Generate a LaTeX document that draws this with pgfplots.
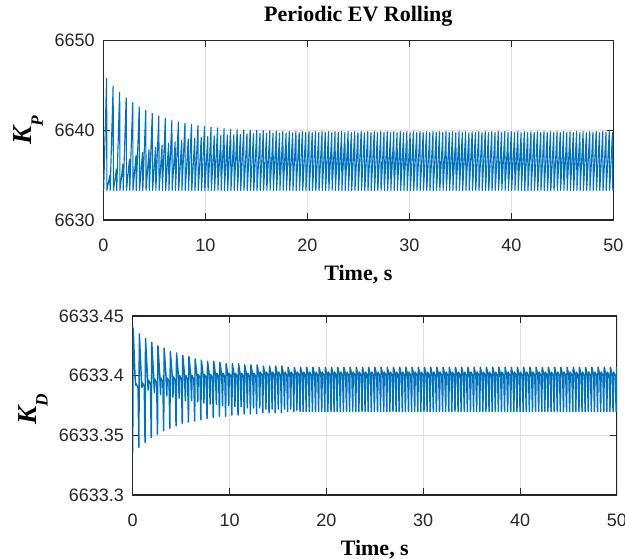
\documentclass[border=0pt]{standalone}
\usepackage{fontspec}
\setmainfont{Liberation Serif}
\newfontfamily\ticksf{Liberation Sans}
\usepackage{pgfplots}
\usepackage{pgfplotstable}
\pgfplotsset{compat=1.18}

\definecolor{mblue}{RGB}{0,114,189}
\newcommand{\tk}{\ticksf\fontsize{13.5}{14}\selectfont}
\newcommand{\lb}{\bfseries\fontsize{16.5}{18}\selectfont}
\newcommand{\yl}{\bfseries\itshape\fontsize{20.5}{22}\selectfont}

% K_P: peak, then fast drop to the floor
\pgfplotstableread[row sep=\\]{
t kp \\
0.00 6634.20 \\ 0.03 6633.30 \\ 0.32 6645.80 \\ 0.35 6633.30 \\ 0.64 6634.98 \\ 0.67 6633.30 \\ 0.96 6644.96 \\ 0.99 6633.30 \\
1.28 6635.66 \\ 1.31 6633.30 \\ 1.60 6644.24 \\ 1.63 6633.30 \\ 1.92 6636.24 \\ 1.95 6633.30 \\ 2.24 6643.62 \\ 2.27 6633.30 \\
2.56 6636.74 \\ 2.59 6633.30 \\ 2.88 6643.08 \\ 2.91 6633.30 \\ 3.20 6637.17 \\ 3.23 6633.30 \\ 3.52 6642.62 \\ 3.55 6633.30 \\
3.84 6637.53 \\ 3.87 6633.30 \\ 4.16 6642.23 \\ 4.19 6633.30 \\ 4.48 6637.85 \\ 4.51 6633.30 \\ 4.80 6641.89 \\ 4.83 6633.30 \\
5.12 6638.12 \\ 5.15 6633.30 \\ 5.44 6641.60 \\ 5.47 6633.30 \\ 5.76 6638.36 \\ 5.79 6633.30 \\ 6.08 6641.34 \\ 6.11 6633.30 \\
6.40 6638.56 \\ 6.43 6633.30 \\ 6.72 6641.13 \\ 6.75 6633.30 \\ 7.04 6638.73 \\ 7.07 6633.30 \\ 7.36 6640.94 \\ 7.39 6633.30 \\
7.68 6638.88 \\ 7.71 6633.30 \\ 8.00 6640.78 \\ 8.03 6633.30 \\ 8.32 6639.01 \\ 8.35 6633.30 \\ 8.64 6640.64 \\ 8.67 6633.30 \\
8.96 6639.12 \\ 8.99 6633.30 \\ 9.28 6640.53 \\ 9.31 6633.30 \\ 9.60 6639.22 \\ 9.63 6633.30 \\ 9.92 6640.42 \\ 9.95 6633.30 \\
10.24 6639.30 \\ 10.27 6633.30 \\ 10.56 6640.34 \\ 10.59 6633.30 \\ 10.88 6639.37 \\ 10.91 6633.30 \\ 11.20 6640.26 \\ 11.23 6633.30 \\
11.52 6639.43 \\ 11.55 6633.30 \\ 11.84 6640.20 \\ 11.87 6633.30 \\ 12.16 6639.48 \\ 12.19 6633.30 \\ 12.48 6640.14 \\ 12.51 6633.30 \\
12.80 6639.53 \\ 12.83 6633.30 \\ 13.12 6640.09 \\ 13.15 6633.30 \\ 13.44 6639.56 \\ 13.47 6633.30 \\ 13.76 6640.05 \\ 13.79 6633.30 \\
14.08 6639.60 \\ 14.11 6633.30 \\ 14.40 6640.02 \\ 14.43 6633.30 \\ 14.72 6639.63 \\ 14.75 6633.30 \\ 15.04 6639.99 \\ 15.07 6633.30 \\
15.36 6639.65 \\ 15.39 6633.30 \\ 15.68 6639.96 \\ 15.71 6633.30 \\ 16.00 6639.67 \\ 16.03 6633.30 \\ 16.32 6639.94 \\ 16.35 6633.30 \\
16.64 6639.69 \\ 16.67 6633.30 \\ 16.96 6639.92 \\ 16.99 6633.30 \\ 17.28 6639.70 \\ 17.31 6633.30 \\ 17.60 6639.90 \\ 17.63 6633.30 \\
17.92 6639.72 \\ 17.95 6633.30 \\ 18.24 6639.89 \\ 18.27 6633.30 \\ 18.56 6639.73 \\ 18.59 6633.30 \\ 18.88 6639.88 \\ 18.91 6633.30 \\
19.20 6639.74 \\ 19.23 6633.30 \\ 19.52 6639.86 \\ 19.55 6633.30 \\ 19.84 6639.75 \\ 19.87 6633.30 \\ 20.16 6639.85 \\ 20.19 6633.30 \\
20.48 6639.75 \\ 20.51 6633.30 \\ 20.80 6639.85 \\ 20.83 6633.30 \\ 21.12 6639.75 \\ 21.15 6633.30 \\ 21.44 6639.85 \\ 21.47 6633.30 \\
21.76 6639.75 \\ 21.79 6633.30 \\ 22.08 6639.85 \\ 22.11 6633.30 \\ 22.40 6639.75 \\ 22.43 6633.30 \\ 22.72 6639.85 \\ 22.75 6633.30 \\
23.04 6639.75 \\ 23.07 6633.30 \\ 23.36 6639.85 \\ 23.39 6633.30 \\ 23.68 6639.75 \\ 23.71 6633.30 \\ 24.00 6639.85 \\ 24.03 6633.30 \\
24.32 6639.75 \\ 24.35 6633.30 \\ 24.64 6639.85 \\ 24.67 6633.30 \\ 24.96 6639.75 \\ 24.99 6633.30 \\ 25.28 6639.85 \\ 25.31 6633.30 \\
25.60 6639.75 \\ 25.63 6633.30 \\ 25.92 6639.85 \\ 25.95 6633.30 \\ 26.24 6639.75 \\ 26.27 6633.30 \\ 26.56 6639.85 \\ 26.59 6633.30 \\
26.88 6639.75 \\ 26.91 6633.30 \\ 27.20 6639.85 \\ 27.23 6633.30 \\ 27.52 6639.75 \\ 27.55 6633.30 \\ 27.84 6639.85 \\ 27.87 6633.30 \\
28.16 6639.75 \\ 28.19 6633.30 \\ 28.48 6639.85 \\ 28.51 6633.30 \\ 28.80 6639.75 \\ 28.83 6633.30 \\ 29.12 6639.85 \\ 29.15 6633.30 \\
29.44 6639.75 \\ 29.47 6633.30 \\ 29.76 6639.85 \\ 29.79 6633.30 \\ 30.08 6639.75 \\ 30.11 6633.30 \\ 30.40 6639.85 \\ 30.43 6633.30 \\
30.72 6639.75 \\ 30.75 6633.30 \\ 31.04 6639.85 \\ 31.07 6633.30 \\ 31.36 6639.75 \\ 31.39 6633.30 \\ 31.68 6639.85 \\ 31.71 6633.30 \\
32.00 6639.75 \\ 32.03 6633.30 \\ 32.32 6639.85 \\ 32.35 6633.30 \\ 32.64 6639.75 \\ 32.67 6633.30 \\ 32.96 6639.85 \\ 32.99 6633.30 \\
33.28 6639.75 \\ 33.31 6633.30 \\ 33.60 6639.85 \\ 33.63 6633.30 \\ 33.92 6639.75 \\ 33.95 6633.30 \\ 34.24 6639.85 \\ 34.27 6633.30 \\
34.56 6639.75 \\ 34.59 6633.30 \\ 34.88 6639.85 \\ 34.91 6633.30 \\ 35.20 6639.75 \\ 35.23 6633.30 \\ 35.52 6639.85 \\ 35.55 6633.30 \\
35.84 6639.75 \\ 35.87 6633.30 \\ 36.16 6639.85 \\ 36.19 6633.30 \\ 36.48 6639.75 \\ 36.51 6633.30 \\ 36.80 6639.85 \\ 36.83 6633.30 \\
37.12 6639.75 \\ 37.15 6633.30 \\ 37.44 6639.85 \\ 37.47 6633.30 \\ 37.76 6639.75 \\ 37.79 6633.30 \\ 38.08 6639.85 \\ 38.11 6633.30 \\
38.40 6639.75 \\ 38.43 6633.30 \\ 38.72 6639.85 \\ 38.75 6633.30 \\ 39.04 6639.75 \\ 39.07 6633.30 \\ 39.36 6639.85 \\ 39.39 6633.30 \\
39.68 6639.75 \\ 39.71 6633.30 \\ 40.00 6639.85 \\ 40.03 6633.30 \\ 40.32 6639.75 \\ 40.35 6633.30 \\ 40.64 6639.85 \\ 40.67 6633.30 \\
40.96 6639.75 \\ 40.99 6633.30 \\ 41.28 6639.85 \\ 41.31 6633.30 \\ 41.60 6639.75 \\ 41.63 6633.30 \\ 41.92 6639.85 \\ 41.95 6633.30 \\
42.24 6639.75 \\ 42.27 6633.30 \\ 42.56 6639.85 \\ 42.59 6633.30 \\ 42.88 6639.75 \\ 42.91 6633.30 \\ 43.20 6639.85 \\ 43.23 6633.30 \\
43.52 6639.75 \\ 43.55 6633.30 \\ 43.84 6639.85 \\ 43.87 6633.30 \\ 44.16 6639.75 \\ 44.19 6633.30 \\ 44.48 6639.85 \\ 44.51 6633.30 \\
44.80 6639.75 \\ 44.83 6633.30 \\ 45.12 6639.85 \\ 45.15 6633.30 \\ 45.44 6639.75 \\ 45.47 6633.30 \\ 45.76 6639.85 \\ 45.79 6633.30 \\
46.08 6639.75 \\ 46.11 6633.30 \\ 46.40 6639.85 \\ 46.43 6633.30 \\ 46.72 6639.75 \\ 46.75 6633.30 \\ 47.04 6639.85 \\ 47.07 6633.30 \\
47.36 6639.75 \\ 47.39 6633.30 \\ 47.68 6639.85 \\ 47.71 6633.30 \\ 48.00 6639.75 \\ 48.03 6633.30 \\ 48.32 6639.85 \\ 48.35 6633.30 \\
48.64 6639.75 \\ 48.67 6633.30 \\ 48.96 6639.85 \\ 48.99 6633.30 \\ 49.28 6639.75 \\ 49.31 6633.30 \\ 49.60 6639.85 \\ 49.63 6633.30 \\
49.92 6639.75 \\ 49.95 6633.30 \\ 50.24 6639.85 \\
}\kptab

% K_D - 6633 (offset kept for TeX precision): dip, fast rise, slow plateau
\pgfplotstableread[row sep=\\]{
t kd \\
0.00 .335 \\ 0.05 .440 \\ 0.24 .400 \\ 0.32 .392 \\ 0.37 .393 \\ 0.56 .390 \\
0.64 .340 \\ 0.69 .435 \\ 0.88 .400 \\ 0.96 .390 \\ 1.01 .394 \\ 1.20 .391 \\
1.28 .344 \\ 1.33 .431 \\ 1.52 .400 \\ 1.60 .388 \\ 1.65 .396 \\ 1.84 .393 \\
1.92 .348 \\ 1.97 .428 \\ 2.16 .400 \\ 2.24 .386 \\ 2.29 .397 \\ 2.48 .394 \\
2.56 .351 \\ 2.61 .425 \\ 2.80 .400 \\ 2.88 .384 \\ 2.93 .398 \\ 3.12 .395 \\
3.20 .354 \\ 3.25 .423 \\ 3.44 .400 \\ 3.52 .383 \\ 3.57 .398 \\ 3.76 .395 \\
3.84 .356 \\ 3.89 .420 \\ 4.08 .400 \\ 4.16 .382 \\ 4.21 .399 \\ 4.40 .396 \\
4.48 .358 \\ 4.53 .419 \\ 4.72 .400 \\ 4.80 .381 \\ 4.85 .400 \\ 5.04 .397 \\
5.12 .360 \\ 5.17 .417 \\ 5.36 .400 \\ 5.44 .379 \\ 5.49 .400 \\ 5.68 .397 \\
5.76 .361 \\ 5.81 .416 \\ 6.00 .400 \\ 6.08 .379 \\ 6.13 .400 \\ 6.32 .397 \\
6.40 .362 \\ 6.45 .414 \\ 6.64 .400 \\ 6.72 .378 \\ 6.77 .401 \\ 6.96 .398 \\
7.04 .363 \\ 7.09 .413 \\ 7.28 .400 \\ 7.36 .377 \\ 7.41 .401 \\ 7.60 .398 \\
7.68 .364 \\ 7.73 .412 \\ 7.92 .400 \\ 8.00 .376 \\ 8.05 .401 \\ 8.24 .398 \\
8.32 .365 \\ 8.37 .412 \\ 8.56 .400 \\ 8.64 .376 \\ 8.69 .402 \\ 8.88 .399 \\
8.96 .366 \\ 9.01 .411 \\ 9.20 .400 \\ 9.28 .375 \\ 9.33 .402 \\ 9.52 .399 \\
9.60 .366 \\ 9.65 .410 \\ 9.84 .400 \\ 9.92 .375 \\ 9.97 .402 \\ 10.16 .399 \\
10.24 .367 \\ 10.29 .410 \\ 10.48 .400 \\ 10.56 .374 \\ 10.61 .402 \\ 10.80 .399 \\
10.88 .367 \\ 10.93 .410 \\ 11.12 .400 \\ 11.20 .374 \\ 11.25 .402 \\ 11.44 .399 \\
11.52 .368 \\ 11.57 .409 \\ 11.76 .400 \\ 11.84 .373 \\ 11.89 .402 \\ 12.08 .399 \\
12.16 .368 \\ 12.21 .409 \\ 12.40 .400 \\ 12.48 .373 \\ 12.53 .402 \\ 12.72 .399 \\
12.80 .368 \\ 12.85 .409 \\ 13.04 .400 \\ 13.12 .373 \\ 13.17 .403 \\ 13.36 .400 \\
13.44 .369 \\ 13.49 .408 \\ 13.68 .400 \\ 13.76 .372 \\ 13.81 .403 \\ 14.00 .400 \\
14.08 .369 \\ 14.13 .408 \\ 14.32 .400 \\ 14.40 .372 \\ 14.45 .403 \\ 14.64 .400 \\
14.72 .369 \\ 14.77 .408 \\ 14.96 .400 \\ 15.04 .372 \\ 15.09 .403 \\ 15.28 .400 \\
15.36 .369 \\ 15.41 .408 \\ 15.60 .400 \\ 15.68 .372 \\ 15.73 .403 \\ 15.92 .400 \\
16.00 .370 \\ 16.05 .407 \\ 16.24 .400 \\ 16.32 .372 \\ 16.37 .403 \\ 16.56 .400 \\
16.64 .370 \\ 16.69 .407 \\ 16.88 .400 \\ 16.96 .371 \\ 17.01 .403 \\ 17.20 .400 \\
17.28 .370 \\ 17.33 .407 \\ 17.52 .400 \\ 17.60 .370 \\ 17.65 .403 \\ 17.84 .400 \\
17.92 .370 \\ 17.97 .407 \\ 18.16 .400 \\ 18.24 .370 \\ 18.29 .403 \\ 18.48 .400 \\
18.56 .370 \\ 18.61 .407 \\ 18.80 .400 \\ 18.88 .370 \\ 18.93 .403 \\ 19.12 .400 \\
19.20 .370 \\ 19.25 .407 \\ 19.44 .400 \\ 19.52 .370 \\ 19.57 .403 \\ 19.76 .400 \\
19.84 .370 \\ 19.89 .407 \\ 20.08 .400 \\ 20.16 .370 \\ 20.21 .403 \\ 20.40 .400 \\
20.48 .370 \\ 20.53 .407 \\ 20.72 .400 \\ 20.80 .370 \\ 20.85 .403 \\ 21.04 .400 \\
21.12 .370 \\ 21.17 .407 \\ 21.36 .400 \\ 21.44 .370 \\ 21.49 .403 \\ 21.68 .400 \\
21.76 .370 \\ 21.81 .407 \\ 22.00 .400 \\ 22.08 .370 \\ 22.13 .403 \\ 22.32 .400 \\
22.40 .370 \\ 22.45 .407 \\ 22.64 .400 \\ 22.72 .370 \\ 22.77 .403 \\ 22.96 .400 \\
23.04 .370 \\ 23.09 .407 \\ 23.28 .400 \\ 23.36 .370 \\ 23.41 .403 \\ 23.60 .400 \\
23.68 .370 \\ 23.73 .407 \\ 23.92 .400 \\ 24.00 .370 \\ 24.05 .403 \\ 24.24 .400 \\
24.32 .370 \\ 24.37 .407 \\ 24.56 .400 \\ 24.64 .370 \\ 24.69 .403 \\ 24.88 .400 \\
24.96 .370 \\ 25.01 .407 \\ 25.20 .400 \\ 25.28 .370 \\ 25.33 .403 \\ 25.52 .400 \\
25.60 .370 \\ 25.65 .407 \\ 25.84 .400 \\ 25.92 .370 \\ 25.97 .403 \\ 26.16 .400 \\
26.24 .370 \\ 26.29 .407 \\ 26.48 .400 \\ 26.56 .370 \\ 26.61 .403 \\ 26.80 .400 \\
26.88 .370 \\ 26.93 .407 \\ 27.12 .400 \\ 27.20 .370 \\ 27.25 .403 \\ 27.44 .400 \\
27.52 .370 \\ 27.57 .407 \\ 27.76 .400 \\ 27.84 .370 \\ 27.89 .403 \\ 28.08 .400 \\
28.16 .370 \\ 28.21 .407 \\ 28.40 .400 \\ 28.48 .370 \\ 28.53 .403 \\ 28.72 .400 \\
28.80 .370 \\ 28.85 .407 \\ 29.04 .400 \\ 29.12 .370 \\ 29.17 .403 \\ 29.36 .400 \\
29.44 .370 \\ 29.49 .407 \\ 29.68 .400 \\ 29.76 .370 \\ 29.81 .403 \\ 30.00 .400 \\
30.08 .370 \\ 30.13 .407 \\ 30.32 .400 \\ 30.40 .370 \\ 30.45 .403 \\ 30.64 .400 \\
30.72 .370 \\ 30.77 .407 \\ 30.96 .400 \\ 31.04 .370 \\ 31.09 .403 \\ 31.28 .400 \\
31.36 .370 \\ 31.41 .407 \\ 31.60 .400 \\ 31.68 .370 \\ 31.73 .403 \\ 31.92 .400 \\
32.00 .370 \\ 32.05 .407 \\ 32.24 .400 \\ 32.32 .370 \\ 32.37 .403 \\ 32.56 .400 \\
32.64 .370 \\ 32.69 .407 \\ 32.88 .400 \\ 32.96 .370 \\ 33.01 .403 \\ 33.20 .400 \\
33.28 .370 \\ 33.33 .407 \\ 33.52 .400 \\ 33.60 .370 \\ 33.65 .403 \\ 33.84 .400 \\
33.92 .370 \\ 33.97 .407 \\ 34.16 .400 \\ 34.24 .370 \\ 34.29 .403 \\ 34.48 .400 \\
34.56 .370 \\ 34.61 .407 \\ 34.80 .400 \\ 34.88 .370 \\ 34.93 .403 \\ 35.12 .400 \\
35.20 .370 \\ 35.25 .407 \\ 35.44 .400 \\ 35.52 .370 \\ 35.57 .403 \\ 35.76 .400 \\
35.84 .370 \\ 35.89 .407 \\ 36.08 .400 \\ 36.16 .370 \\ 36.21 .403 \\ 36.40 .400 \\
36.48 .370 \\ 36.53 .407 \\ 36.72 .400 \\ 36.80 .370 \\ 36.85 .403 \\ 37.04 .400 \\
37.12 .370 \\ 37.17 .407 \\ 37.36 .400 \\ 37.44 .370 \\ 37.49 .403 \\ 37.68 .400 \\
37.76 .370 \\ 37.81 .407 \\ 38.00 .400 \\ 38.08 .370 \\ 38.13 .403 \\ 38.32 .400 \\
38.40 .370 \\ 38.45 .407 \\ 38.64 .400 \\ 38.72 .370 \\ 38.77 .403 \\ 38.96 .400 \\
39.04 .370 \\ 39.09 .407 \\ 39.28 .400 \\ 39.36 .370 \\ 39.41 .403 \\ 39.60 .400 \\
39.68 .370 \\ 39.73 .407 \\ 39.92 .400 \\ 40.00 .370 \\ 40.05 .403 \\ 40.24 .400 \\
40.32 .370 \\ 40.37 .407 \\ 40.56 .400 \\ 40.64 .370 \\ 40.69 .403 \\ 40.88 .400 \\
40.96 .370 \\ 41.01 .407 \\ 41.20 .400 \\ 41.28 .370 \\ 41.33 .403 \\ 41.52 .400 \\
41.60 .370 \\ 41.65 .407 \\ 41.84 .400 \\ 41.92 .370 \\ 41.97 .403 \\ 42.16 .400 \\
42.24 .370 \\ 42.29 .407 \\ 42.48 .400 \\ 42.56 .370 \\ 42.61 .403 \\ 42.80 .400 \\
42.88 .370 \\ 42.93 .407 \\ 43.12 .400 \\ 43.20 .370 \\ 43.25 .403 \\ 43.44 .400 \\
43.52 .370 \\ 43.57 .407 \\ 43.76 .400 \\ 43.84 .370 \\ 43.89 .403 \\ 44.08 .400 \\
44.16 .370 \\ 44.21 .407 \\ 44.40 .400 \\ 44.48 .370 \\ 44.53 .403 \\ 44.72 .400 \\
44.80 .370 \\ 44.85 .407 \\ 45.04 .400 \\ 45.12 .370 \\ 45.17 .403 \\ 45.36 .400 \\
45.44 .370 \\ 45.49 .407 \\ 45.68 .400 \\ 45.76 .370 \\ 45.81 .403 \\ 46.00 .400 \\
46.08 .370 \\ 46.13 .407 \\ 46.32 .400 \\ 46.40 .370 \\ 46.45 .403 \\ 46.64 .400 \\
46.72 .370 \\ 46.77 .407 \\ 46.96 .400 \\ 47.04 .370 \\ 47.09 .403 \\ 47.28 .400 \\
47.36 .370 \\ 47.41 .407 \\ 47.60 .400 \\ 47.68 .370 \\ 47.73 .403 \\ 47.92 .400 \\
48.00 .370 \\ 48.05 .407 \\ 48.24 .400 \\ 48.32 .370 \\ 48.37 .403 \\ 48.56 .400 \\
48.64 .370 \\ 48.69 .407 \\ 48.88 .400 \\ 48.96 .370 \\ 49.01 .403 \\ 49.20 .400 \\
49.28 .370 \\ 49.33 .407 \\ 49.52 .400 \\ 49.60 .370 \\ 49.65 .403 \\ 49.84 .400 \\
49.92 .370 \\ 49.97 .407 \\ 50.16 .400 \\
}\kdtab

\pgfplotsset{
  mstyle/.style={
    scale only axis,
    xmin=0, xmax=50, xtick={0,10,20,30,40,50},
    tick align=inside, xtick pos=both, ytick pos=both,
    major tick length=5pt,
    axis line style={black!85, line width=0.8pt},
    tick style={black!85, line width=0.8pt},
    grid=major, major grid style={black!12, line width=0.6pt},
    /pgf/number format/assume math mode=true,
    ticklabel style={font=\tk, text=black!85},
    xticklabel style={anchor=north, inner sep=0pt, yshift=-14pt},
    yticklabel style={anchor=east, inner sep=0pt, xshift=-6.3pt},
    scaled y ticks=false,
    xlabel={Time, s},
    label style={font=\lb},
  },
}

\begin{document}
\begin{tikzpicture}
\path[use as bounding box] (0,0) rectangle (468.75pt,-419.25pt);

\begin{axis}[mstyle,
  at={(77.5pt,-165pt)}, anchor=south west,
  width=382.5pt, height=134.5pt,
  ymin=6630, ymax=6650, ytick={6630,6640,6650},
  yticklabels={6630,6640,6650},
  title={Periodic EV Rolling},
  title style={font=\lb, at={(axis description cs:0.5,1.0632)}, anchor=base, inner sep=0pt},
  xlabel style={at={(axis description cs:0.5,-0.3383)}, anchor=base, inner sep=0pt},
  ylabel={\yl K\raisebox{-0.4em}{\fontsize{13}{13}\selectfont P}},
  ylabel style={at={(axis description cs:-0.1399,0.5)}, anchor=base, inner sep=0pt},
]
\addplot[mblue, line width=0.85pt, line join=round] table[x=t, y=kp] {\kptab};
\end{axis}

\begin{axis}[mstyle,
  at={(99.5pt,-371.25pt)}, anchor=south west,
  width=363.2pt, height=134.25pt,
  ymin=0.3, ymax=0.45, ytick={0.3,0.35,0.4,0.45},
  yticklabels={6633.3,6633.35,6633.4,6633.45},
  xlabel style={at={(axis description cs:0.5,-0.3389)}, anchor=base, inner sep=0pt},
  ylabel={\yl K\raisebox{-0.4em}{\fontsize{13}{13}\selectfont D}},
  ylabel style={at={(axis description cs:-0.1982,0.48)}, anchor=base, inner sep=0pt},
]
\addplot[mblue, line width=1.1pt, line join=round] table[x=t, y=kd] {\kdtab};
\end{axis}
\end{tikzpicture}
\end{document}
